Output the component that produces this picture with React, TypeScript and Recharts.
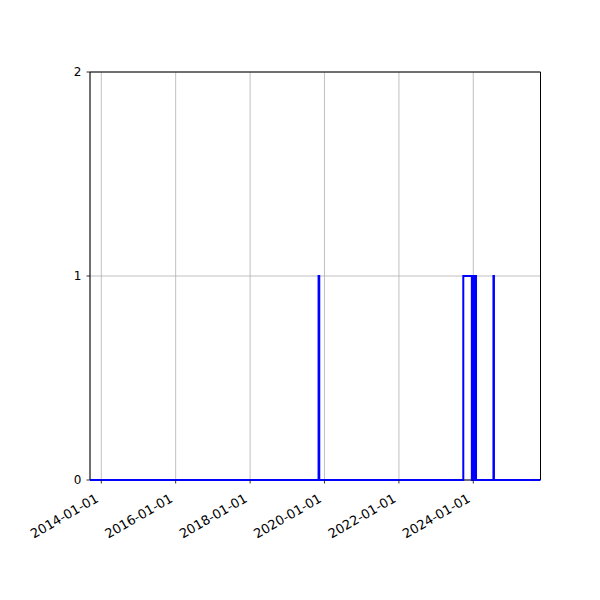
import { LineChart, Line, XAxis, YAxis, CartesianGrid, ReferenceArea } from 'recharts'

// step series: value holds from each date until the next one
const changeDates = [
  '2013-09-12', '2019-11-04', '2019-11-11', '2023-09-25', '2023-12-18', '2023-12-30',
  '2024-01-10', '2024-01-20', '2024-01-28', '2024-07-17', '2024-07-22', '2025-10-22',
]
const stepValues = [0, 1, 0, 1, 0, 1, 0, 1, 0, 1, 0, 0]

const xTickLabels = ['2014-01-01', '2016-01-01', '2018-01-01', '2020-01-01', '2022-01-01', '2024-01-01']
const yTicks = [0, 1, 2]

const xStart = Date.parse('2013-09-12')
const xEnd = Date.parse('2025-10-22')

const data = changeDates.map((d, i) => ({ t: Date.parse(d), value: stepValues[i] }))
const xTicks = xTickLabels.map((d) => Date.parse(d))

const font = '"DejaVu Sans", sans-serif'

const DateTick = (props: any) => {
  const { x, y, payload } = props
  const label = new Date(payload.value).toISOString().slice(0, 10)
  return (
    <g transform={`translate(${x - 2},${y + 14})`}>
      <text x={0} y={0} textAnchor="end" transform="rotate(-30)" fontSize={13} fontFamily={font} fill="#000">
        {label}
      </text>
    </g>
  )
}

export default function App() {
  return (
    <div style={{ position: 'absolute', left: 0, top: 0, width: 600, height: 600, background: '#fff' }}>
      <LineChart width={600} height={600} data={data} margin={{ top: 72, right: 59.5, left: 0, bottom: 0 }}>
        <CartesianGrid stroke="#b0b0b0" strokeWidth={0.8} />
        <XAxis
          dataKey="t"
          type="number"
          domain={[xStart, xEnd]}
          allowDataOverflow
          ticks={xTicks}
          interval={0}
          tick={<DateTick />}
          tickSize={3.5}
          tickMargin={3.5}
          height={120}
          axisLine={false}
          tickLine={{ stroke: '#000', strokeWidth: 0.8 }}
        />
        <YAxis
          type="number"
          domain={[0, 2]}
          ticks={yTicks}
          interval={0}
          width={90}
          tickSize={3.5}
          tickMargin={5}
          tick={{ fontSize: 12, fontFamily: font, fill: '#000' }}
          axisLine={false}
          tickLine={{ stroke: '#000', strokeWidth: 0.8 }}
        />
        <Line
          type="stepAfter"
          dataKey="value"
          stroke="#0000ff"
          strokeWidth={2}
          dot={false}
          activeDot={false}
          isAnimationActive={false}
        />
        <ReferenceArea x1={xStart} x2={xEnd} y1={0} y2={2} fill="none" stroke="#000" strokeWidth={1} ifOverflow="visible" />
      </LineChart>
    </div>
  )
}
